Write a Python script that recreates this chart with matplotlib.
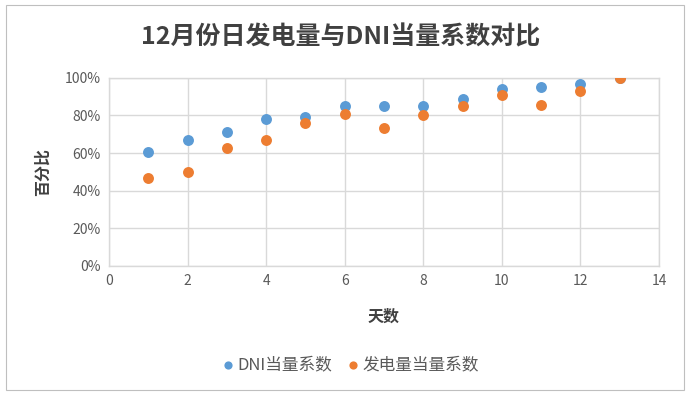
import matplotlib
matplotlib.use("Agg")
import matplotlib.pyplot as plt
from matplotlib.ticker import PercentFormatter, MultipleLocator
from matplotlib.patches import Rectangle

plt.rcParams['font.family'] = ['Noto Sans CJK SC', 'DejaVu Sans']

days = [1, 2, 3, 4, 5, 6, 7, 8, 9, 10, 11, 12, 13]
dni = [60.4, 66.8, 71.3, 77.9, 79.1, 84.9, 84.9, 85.2, 88.7, 94.3, 95.0, 96.5, 100.0]
power = [46.9, 49.9, 62.5, 66.8, 76.1, 80.9, 73.4, 80.0, 85.2, 91.1, 85.6, 93.0, 100.0]

title = "12月份日发电量与DNI当量系数对比"
xlabel = "天数"
ylabel = "百分比"
series_names = ["DNI当量系数", "发电量当量系数"]

blue = "#5B9BD5"
orange = "#ED7D31"
grid_c = "#D9D9D9"
text_c = "#595959"
dark_c = "#404040"

fig = plt.figure(figsize=(6.9, 3.95), dpi=100)
fig.patches.append(Rectangle((0.008, 0.013), 0.984, 0.975, transform=fig.transFigure,
                             fill=False, edgecolor="#BFBFBF", linewidth=0.8))
ax = fig.add_axes([0.158, 0.327, 0.797, 0.476])

ax.scatter(days, dni, s=62, color=blue, label=series_names[0], zorder=3, linewidths=0)
ax.scatter(days, power, s=62, color=orange, label=series_names[1], zorder=4, linewidths=0)

ax.set_xlim(0, 14)
ax.set_ylim(0, 100)
ax.xaxis.set_major_locator(MultipleLocator(2))
ax.yaxis.set_major_locator(MultipleLocator(20))
ax.yaxis.set_major_formatter(PercentFormatter(decimals=0))
ax.grid(True, color=grid_c, linewidth=1.0, zorder=0)
ax.set_axisbelow(True)
for s in ax.spines.values():
    s.set_color(grid_c)
    s.set_linewidth(1.0)
ax.tick_params(length=0, labelsize=10, colors=text_c, pad=6)

ax.set_xlabel(xlabel, fontsize=11.5, fontweight='bold', color=dark_c, labelpad=15)
ax.set_ylabel(ylabel, fontsize=11.5, fontweight='bold', color=dark_c, labelpad=10)

fig.text(0.494, 0.905, title, ha='center', va='center', fontsize=18, fontweight='bold', color=dark_c)

leg = ax.legend(loc='upper center', bbox_to_anchor=(0.433, -0.40), ncol=2, frameon=False,
                fontsize=12, handletextpad=-0.2, columnspacing=0.5, markerscale=0.75,
                handlelength=1.5)
for t in leg.get_texts():
    t.set_color(text_c)

fig.savefig("out.png", dpi=100)
